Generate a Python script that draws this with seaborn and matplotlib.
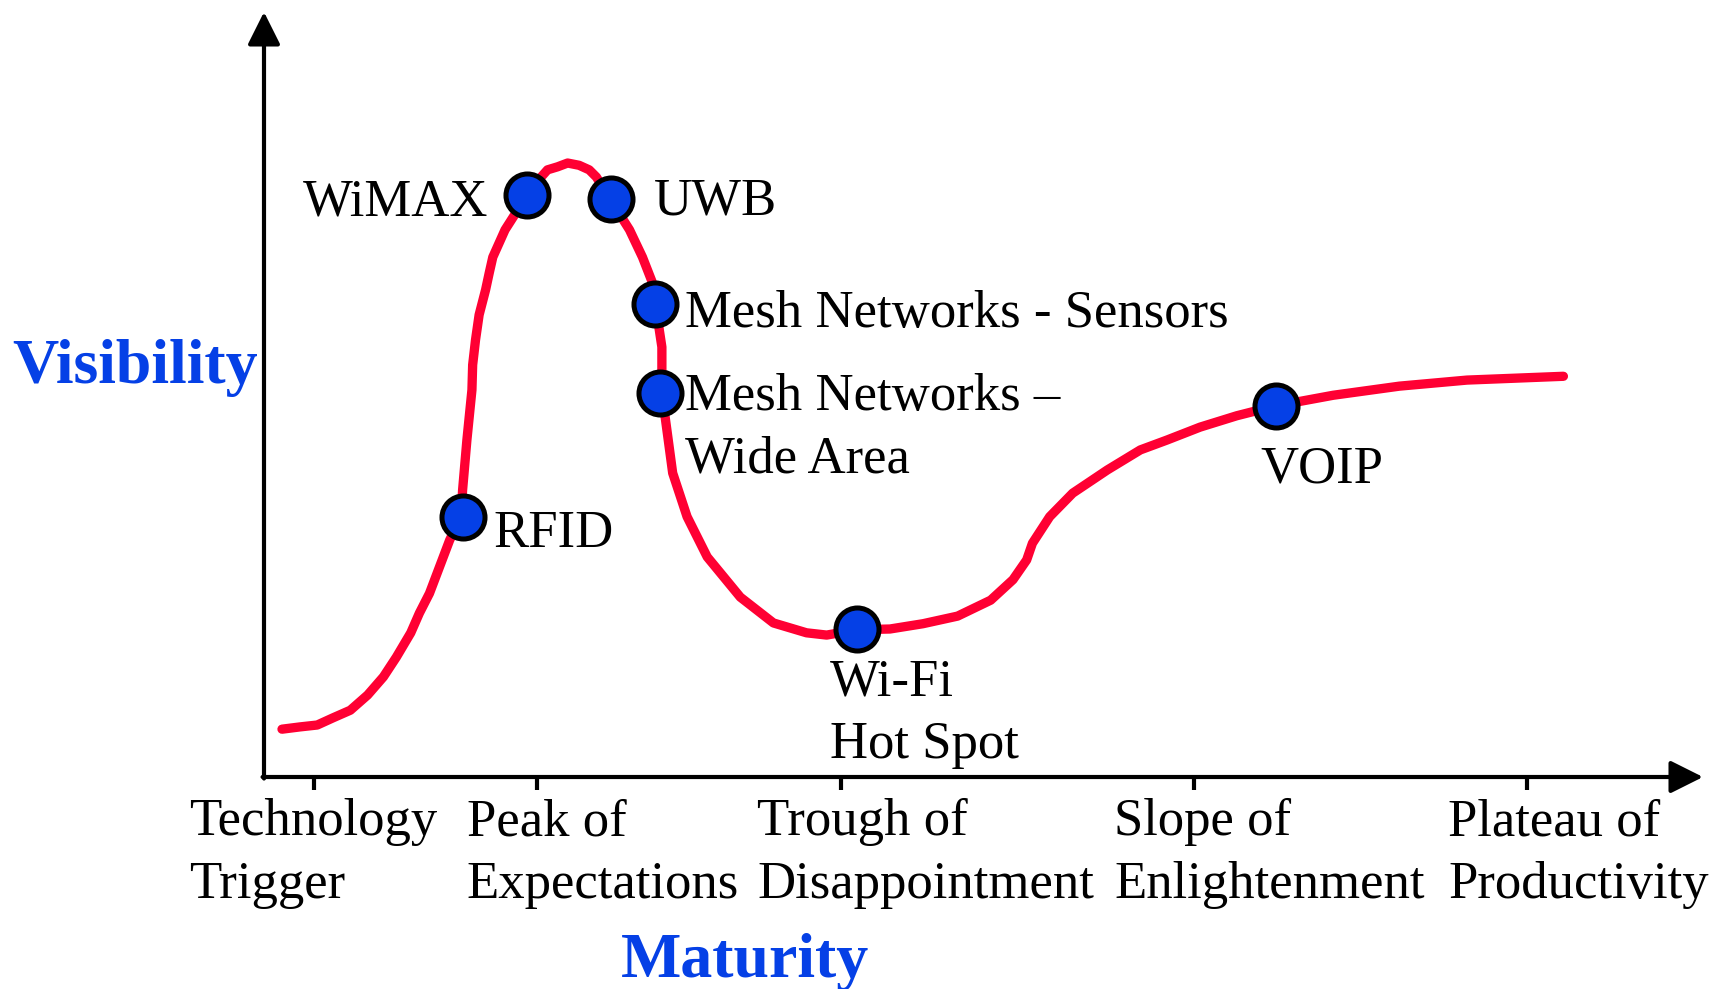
import matplotlib
matplotlib.use("Agg")
import matplotlib.pyplot as plt
import seaborn as sns

sns.set_style("white")
plt.rcParams['font.family'] = ['Liberation Serif', 'DejaVu Serif']
plt.rcParams['text.color'] = 'black'

red = "#ff0033"
blue = "#0540e6"

# hype curve (maturity 0-100, visibility 0-100)
curve_x = [1.25, 2.5, 3.7, 4.8, 6.0, 7.2, 8.3, 9.2, 10.2, 10.8, 11.5, 12.2,
           12.9, 13.7, 13.8, 14.1, 14.45, 14.5, 14.7, 14.95, 15.4, 15.65,
           15.9, 16.75, 18.3, 19.0, 19.7, 20.4, 21.1, 21.9, 22.6, 23.1, 24.0,
           25.4, 26.3, 27.0, 27.2, 27.65, 27.65, 28.0, 28.4, 29.4, 30.8, 33.1,
           35.4, 37.7, 39.1, 41.2, 43.5, 45.8, 48.2, 50.5, 52.05, 53.0, 53.4,
           54.6, 56.2, 58.6, 60.9, 62.75, 65.05, 67.6, 70.3, 74.3, 78.9, 83.6,
           90.3]
curve_y = [6.3, 6.6, 6.85, 7.8, 8.8, 10.8, 13.2, 15.8, 19.0, 21.6, 24.2, 27.7,
           31.2, 34.4, 37.8, 44.4, 51.0, 54.3, 57.6, 60.9, 64.2, 66.4, 68.5,
           72.1, 76.7, 78.5, 80.0, 80.4, 80.9, 80.6, 80.0, 79.05, 76.3, 72.1,
           68.5, 65.1, 62.3, 56.65, 50.6, 45.7, 40.05, 34.3, 29.0, 23.7, 20.3,
           19.0, 18.7, 19.4, 19.5, 20.2, 21.2, 23.3, 26.0, 28.6, 30.8, 34.3,
           37.4, 40.45, 43.1, 44.4, 46.1, 47.6, 48.9, 50.3, 51.5, 52.3, 52.8]

# technologies on the curve
tech_names = ["RFID", "WiMAX", "UWB", "Mesh Networks - Sensors",
              "Mesh Networks \u2013\nWide Area", "Wi-Fi\nHot Spot", "VOIP"]
tech_x = [13.8, 18.3, 24.1, 27.2, 27.5, 41.2, 70.3]
tech_y = [34.3, 76.7, 76.2, 62.3, 50.6, 19.5, 48.9]

# phases on the maturity axis
phase_ticks = [3.5, 19.0, 40.1, 64.6, 87.8]
phase_labels = ["Technology\nTrigger", "Peak of\nExpectations",
                "Trough of\nDisappointment", "Slope of\nEnlightenment",
                "Plateau of\nProductivity"]

# label placement (offset points from dot / tick, last line baseline)
tech_offsets = [(22, -21.5), (-28, -14.5), (31, -11.5), (21, -16.5),
                (18, -57.6), (-19.5, -92.9), (-11, -55.5)]
tech_ha = ["left", "right", "left", "left", "left", "left", "left"]
phase_dx = [-90, -51, -60.5, -57, -57]

fig = plt.figure(figsize=(17.24, 9.89), dpi=100)
ax = fig.add_axes([264 / 1724, 212 / 989, 1439 / 1724, 765 / 989])
ax.set_xlim(0, 100)
ax.set_ylim(0, 100.8)
for s in ax.spines.values():
    s.set_visible(False)

# axes with arrow heads
arrow = dict(arrowstyle="-|>,head_length=1.0,head_width=0.5", lw=3,
             color="black", mutation_scale=20, shrinkA=0, shrinkB=0)
ax.annotate("", xy=(100, 0), xytext=(-0.1, 0), arrowprops=arrow, annotation_clip=False)
ax.annotate("", xy=(0, 100.8), xytext=(0, -0.2), arrowprops=arrow, annotation_clip=False)

sns.lineplot(x=curve_x, y=curve_y, sort=False, estimator=None, ax=ax,
             color=red, linewidth=6.7, solid_capstyle="round",
             solid_joinstyle="round", zorder=2)
sns.scatterplot(x=tech_x, y=tech_y, ax=ax, s=960, color=blue,
                edgecolor="black", linewidth=3.6, zorder=3, clip_on=False)

for name, x, y, off, ha in zip(tech_names, tech_x, tech_y, tech_offsets, tech_ha):
    ax.annotate(name, xy=(x, y), xytext=off, textcoords="offset points",
                ha=ha, va="baseline", fontsize=38, linespacing=1.4)

ax.set_xticks(phase_ticks)
ax.set_xticklabels([])
ax.set_yticks([])
ax.tick_params(axis="x", direction="out", length=9.5, width=3, color="black",
               bottom=True)
for t, lbl, dx in zip(phase_ticks, phase_labels, phase_dx):
    ax.annotate(lbl, xy=(t, 0), xycoords=("data", "axes fraction"),
                xytext=(dx, -87.1), textcoords="offset points",
                ha="left", va="baseline", fontsize=38, linespacing=1.4,
                annotation_clip=False)

ax.set_ylabel("Visibility", rotation=0, ha="right", va="baseline",
              fontsize=46, fontweight="bold", color=blue)
ax.yaxis.set_label_coords(-0.004, 0.515)
ax.set_xlabel("Maturity", ha="center", va="baseline",
              fontsize=46, fontweight="bold", color=blue)
ax.xaxis.set_label_coords(0.334, -0.261)

fig.savefig("out.png", dpi=100)
